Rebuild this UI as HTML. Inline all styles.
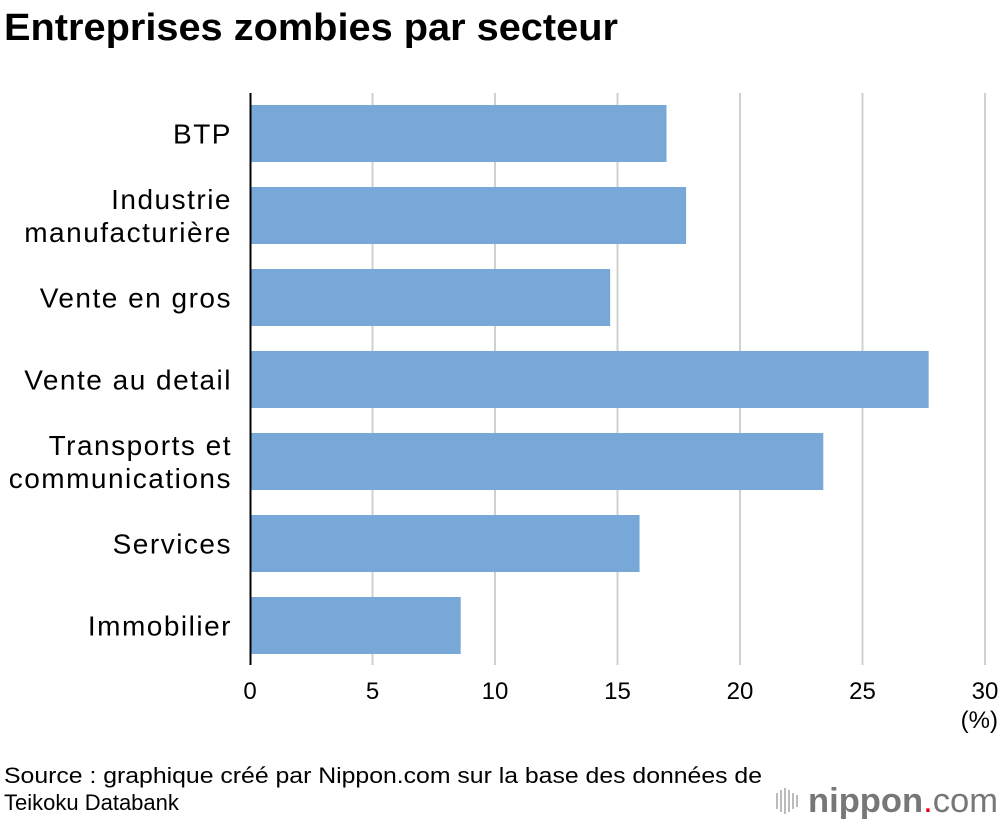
<!DOCTYPE html>
<html><head><meta charset="utf-8">
<style>
html,body{margin:0;padding:0;background:#fff;width:1000px;height:824px;overflow:hidden;font-family:"Liberation Sans",Arial,sans-serif;}
</style></head>
<body>
<svg id="chart" width="1000" height="824" xmlns="http://www.w3.org/2000/svg">
<text x="4" y="40" font-size="38" font-weight="bold" fill="#000" textLength="614" lengthAdjust="spacingAndGlyphs">Entreprises zombies par secteur</text>
<g id="grid"></g>
<g id="bars"></g>
<g id="ylabels"></g>
<g id="xticks"></g>
<line x1="250.5" y1="93" x2="250.5" y2="665" stroke="#000" stroke-width="2"/>
<text x="998" y="728" font-size="24" text-anchor="end" fill="#000">(%)</text>
<text x="4" y="783" font-size="22" fill="#000" textLength="758" lengthAdjust="spacingAndGlyphs">Source : graphique créé par Nippon.com sur la base des données de</text>
<text x="4" y="810" font-size="22" fill="#000">Teikoku Databank</text>
<g>
<g fill="#bbb">
<rect x="776" y="793" width="2" height="16"/><rect x="780" y="790" width="2" height="22"/><rect x="784" y="788" width="2" height="26"/><rect x="788" y="790" width="2" height="22"/><rect x="792" y="793" width="2" height="16"/><rect x="796" y="795" width="2" height="12"/>
</g>
<text x="808" y="812" font-size="34" fill="#777" textLength="190" lengthAdjust="spacingAndGlyphs"><tspan font-weight="bold">nippon</tspan><tspan fill="#e60012">.</tspan><tspan>com</tspan></text>
</g>
</svg>
<script>
const categories = [["BTP"],["Industrie","manufacturière"],["Vente en gros"],["Vente au detail"],["Transports et","communications"],["Services"],["Immobilier"]];
const values = [17.0, 17.8, 14.7, 27.7, 23.4, 15.9, 8.6];
const tickValues = [0,5,10,15,20,25,30];
const tickLabels = ["0","5","10","15","20","25","30"];

const NS="http://www.w3.org/2000/svg";
const x0=250, x1=985, xmax=30;
const xs=v=>x0+(x1-x0)*v/xmax;
const plotTop=93, step=82, barH=57, firstBar=105;
const yb=i=>firstBar+i*step;
function mk(tag,attrs,parent){const e=document.createElementNS(NS,tag);for(const k in attrs)e.setAttribute(k,attrs[k]);parent.appendChild(e);return e;}
const grid=document.getElementById('grid'),bars=document.getElementById('bars'),yl=document.getElementById('ylabels'),xt=document.getElementById('xticks');
tickValues.forEach((t,i)=>{
  if(t>0){const l=mk('line',{x1:xs(t),x2:xs(t),y1:plotTop,y2:665,stroke:'#d0d0d0','stroke-width':2},grid);
  
  }
  const tx=mk('text',{x:xs(t),y:699,'font-size':24,'text-anchor':'middle',fill:'#000'},xt);
  tx.textContent=tickLabels[i];
  
  
});
values.forEach((v,i)=>{
  const r=mk('rect',{x:x0+1,y:yb(i),width:xs(v)-x0-1,height:barH,fill:'#77a8d8'},bars);
  
  
  const lines=categories[i];
  const cy=yb(i)+barH/2;
  const t=mk('text',{x:232,'font-size':28,'letter-spacing':'1.5px','text-anchor':'end',fill:'#000'},yl);
  
  
  lines.forEach((ln,j)=>{
    const y=cy+10+(j-(lines.length-1)/2)*33;
    const s=mk('tspan',{x:232,y:y},t);s.textContent=ln;
  });
});
</script>
</body></html>
